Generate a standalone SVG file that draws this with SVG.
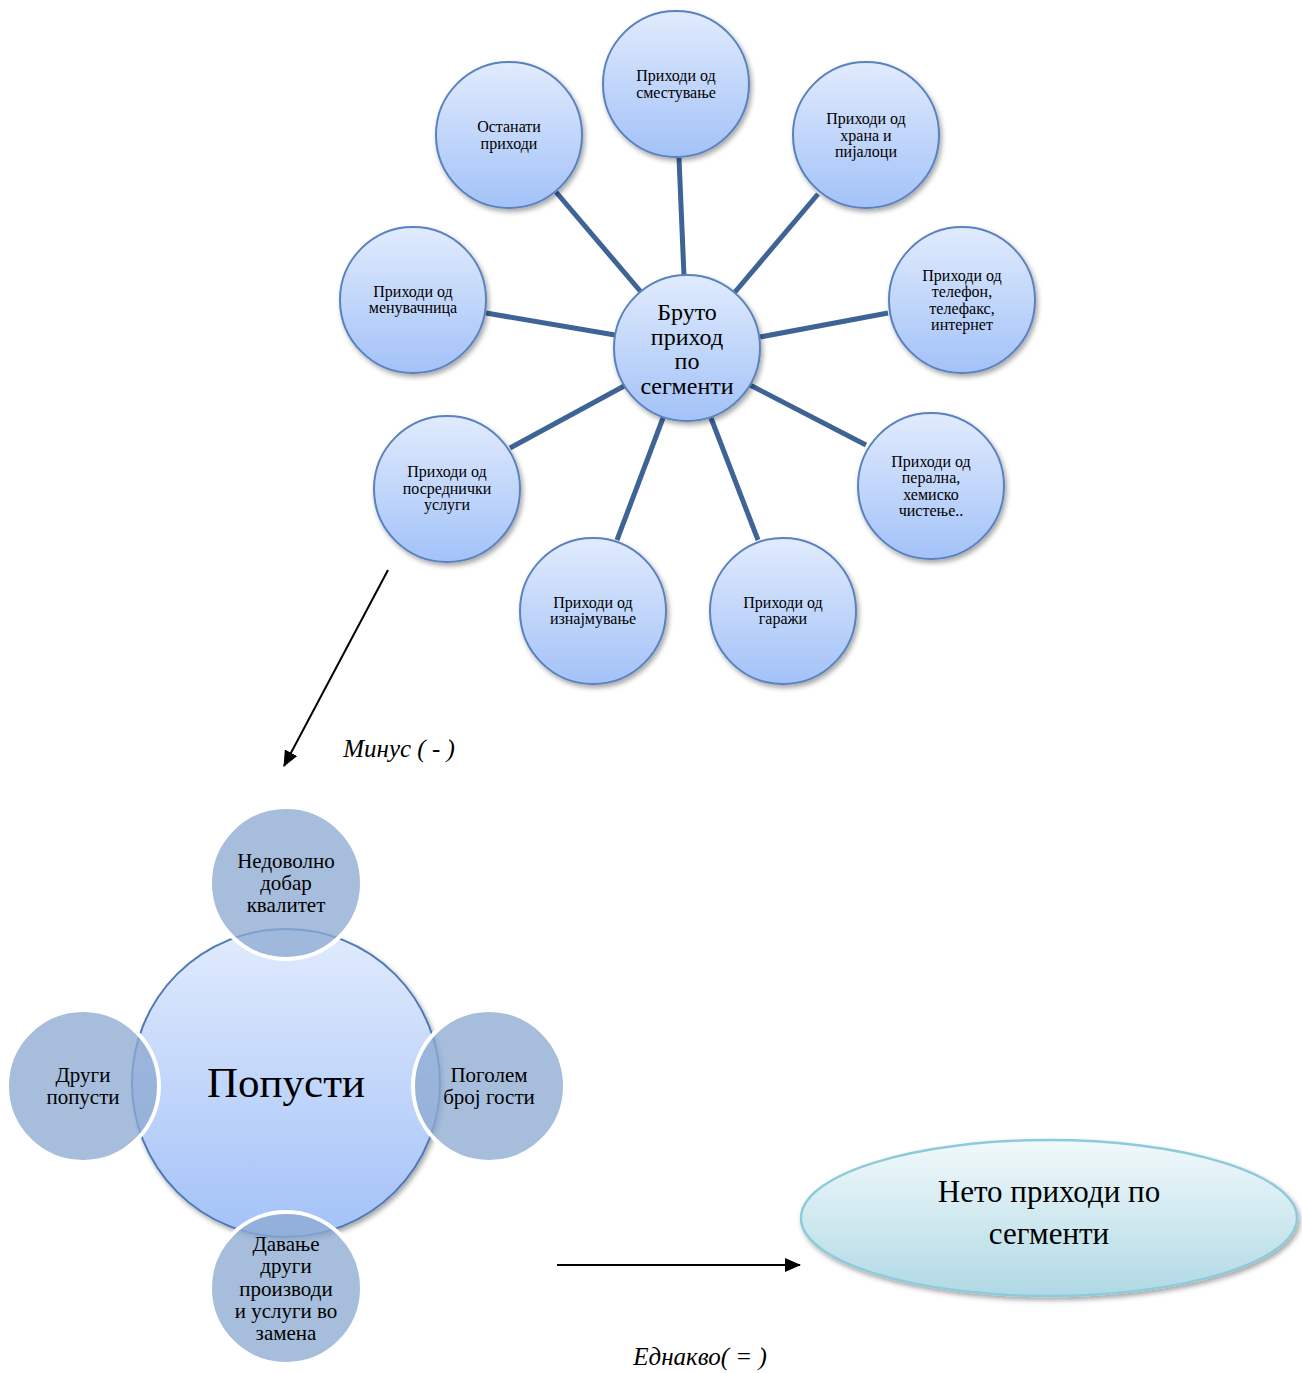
<svg xmlns="http://www.w3.org/2000/svg" width="1302" height="1373" viewBox="0 0 1302 1373">
<defs>
<linearGradient id="gB" x1="0" y1="0" x2="0" y2="1"><stop offset="0" stop-color="#e1ebfd"/><stop offset="1" stop-color="#a3c2f8"/></linearGradient>
<linearGradient id="gE" x1="0" y1="0" x2="0" y2="1"><stop offset="0" stop-color="#f1f9fb"/><stop offset="1" stop-color="#b0d9e5"/></linearGradient>
<filter id="sh" x="-20%" y="-20%" width="150%" height="150%"><feDropShadow dx="2" dy="3" stdDeviation="2.5" flood-color="#000" flood-opacity="0.35"/></filter>
<marker id="ah2" markerWidth="16" markerHeight="14" refX="15" refY="7" orient="auto" markerUnits="userSpaceOnUse"><path d="M0,0 L16,7 L0,14 z" fill="#000"/></marker>
<style>
.oc{fill:url(#gB);stroke:#5a82bf;stroke-width:2;filter:url(#sh)}
.t{font-family:"Liberation Serif","DejaVu Serif",serif;fill:#000;text-anchor:middle}
.s{font-size:16px}
.m{font-size:21px}
.c{font-size:24px}
.sc{fill:#8dabd2;fill-opacity:0.78;stroke:#fff;stroke-width:4}
.cn{stroke:#3e6496;stroke-width:5;fill:none}
.ar{stroke:#000;stroke-width:2;fill:none}
</style>
</defs>
<rect width="1302" height="1373" fill="#fff"/>
<g id="connectors">
<line class="cn" x1="679" y1="158" x2="684" y2="276"/>
<line class="cn" x1="818" y1="194" x2="735" y2="292"/>
<line class="cn" x1="888" y1="313" x2="760" y2="337"/>
<line class="cn" x1="866" y1="445" x2="750" y2="385"/>
<line class="cn" x1="758" y1="540" x2="711" y2="418"/>
<line class="cn" x1="617" y1="540" x2="663" y2="418"/>
<line class="cn" x1="510" y1="448" x2="626" y2="385"/>
<line class="cn" x1="486" y1="313" x2="615" y2="335"/>
<line class="cn" x1="556" y1="192" x2="641" y2="292"/>
<line class="ar" x1="388" y1="570" x2="284" y2="766" marker-end="url(#ah2)"/>
<line class="ar" x1="557" y1="1265" x2="800" y2="1265" marker-end="url(#ah2)"/>
</g>
<g id="n-center"><circle class="oc" cx="687" cy="348" r="73"/>
<text class="t c" x="687" y="320">Бруто</text><text class="t c" x="687" y="345">приход</text><text class="t c" x="687" y="369">по</text><text class="t c" x="687" y="394">сегменти</text></g>
<g id="n-smest"><circle class="oc" cx="676" cy="84" r="73"/><text class="t s" x="676" y="81">Приходи од</text><text class="t s" x="676" y="98">сместување</text></g>
<g id="n-hrana"><circle class="oc" cx="866" cy="135" r="73"/><text class="t s" x="866" y="124">Приходи од</text><text class="t s" x="866" y="141">храна и</text><text class="t s" x="866" y="157">пијалоци</text></g>
<g id="n-telefon"><circle class="oc" cx="962" cy="300" r="73"/><text class="t s" x="962" y="281">Приходи од</text><text class="t s" x="962" y="297">телефон,</text><text class="t s" x="962" y="314">телефакс,</text><text class="t s" x="962" y="330">интернет</text></g>
<g id="n-peralna"><circle class="oc" cx="931" cy="486" r="73"/><text class="t s" x="931" y="467">Приходи од</text><text class="t s" x="931" y="483">перална,</text><text class="t s" x="931" y="500">хемиско</text><text class="t s" x="931" y="516">чистење..</text></g>
<g id="n-garazi"><circle class="oc" cx="783" cy="611" r="73"/><text class="t s" x="783" y="608">Приходи од</text><text class="t s" x="783" y="624">гаражи</text></g>
<g id="n-iznaj"><circle class="oc" cx="593" cy="611" r="73"/><text class="t s" x="593" y="608">Приходи од</text><text class="t s" x="593" y="624">изнајмување</text></g>
<g id="n-posred"><circle class="oc" cx="447" cy="489" r="73"/><text class="t s" x="447" y="477">Приходи од</text><text class="t s" x="447" y="494">посреднички</text><text class="t s" x="447" y="510">услуги</text></g>
<g id="n-menuv"><circle class="oc" cx="413" cy="300" r="73"/><text class="t s" x="413" y="297">Приходи од</text><text class="t s" x="413" y="313">менувачница</text></g>
<g id="n-ostanati"><circle class="oc" cx="509" cy="135" r="73"/><text class="t s" x="509" y="132">Останати</text><text class="t s" x="509" y="149">приходи</text></g>
<text class="t" x="399" y="757" font-size="25" font-style="italic">Минус ( - )</text>
<g id="n-popusti"><circle cx="286" cy="1083" r="154" fill="url(#gB)" stroke="#4f79b6" stroke-width="2" filter="url(#sh)"/>
<text class="t" x="286" y="1097" font-size="43">Попусти</text></g>
<g id="n-nedovolno"><circle class="sc" cx="286" cy="883" r="76"/><text class="t m" x="286" y="868">Недоволно</text><text class="t m" x="286" y="890">добар</text><text class="t m" x="286" y="912">квалитет</text></g>
<g id="n-drugi"><circle class="sc" cx="83" cy="1086" r="76"/><text class="t m" x="83" y="1082">Други</text><text class="t m" x="83" y="1104">попусти</text></g>
<g id="n-pogolem"><circle class="sc" cx="489" cy="1086" r="76"/><text class="t m" x="489" y="1082">Поголем</text><text class="t m" x="489" y="1104">број гости</text></g>
<g id="n-davanje"><circle class="sc" cx="286" cy="1288" r="76"/><text class="t m" x="286" y="1251">Давање</text><text class="t m" x="286" y="1273">други</text><text class="t m" x="286" y="1296">производи</text><text class="t m" x="286" y="1318">и услуги во</text><text class="t m" x="286" y="1340">замена</text></g>
<text class="t" x="700" y="1365" font-size="25" font-style="italic">Еднакво( = )</text>
<g id="n-neto"><ellipse cx="1049" cy="1218" rx="248" ry="78" fill="url(#gE)" stroke="#8dcbdb" stroke-width="2.5" filter="url(#sh)"/>
<text class="t" x="1049" y="1202" font-size="31">Нето приходи по</text><text class="t" x="1049" y="1244" font-size="31">сегменти</text></g>
</svg>
